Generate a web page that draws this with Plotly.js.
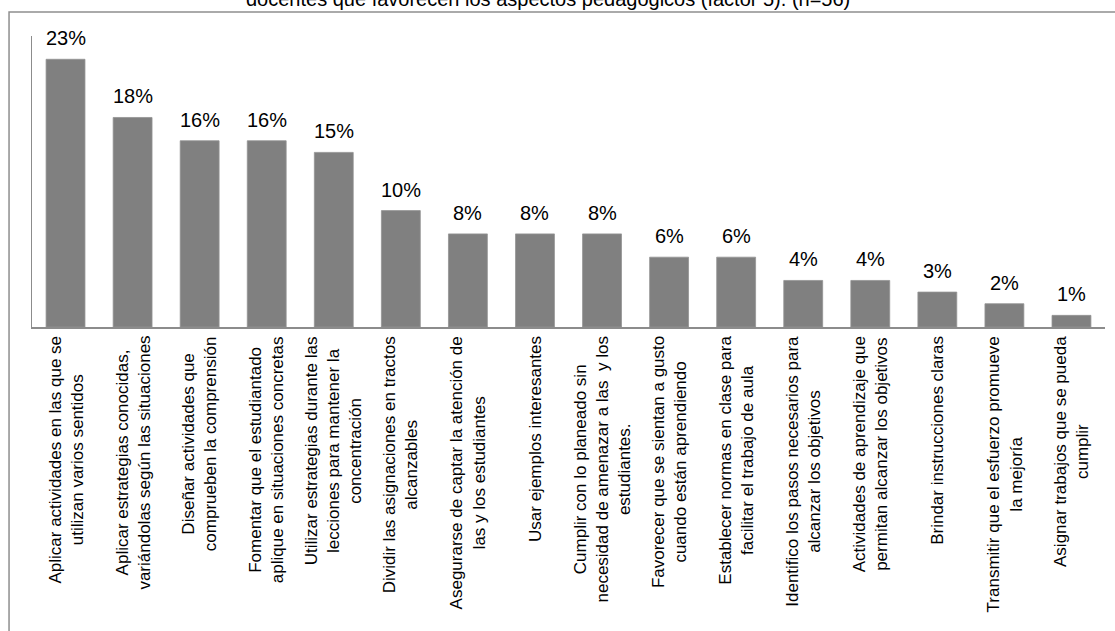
<!DOCTYPE html>
<html>
<head>
<meta charset="utf-8">
<script src="https://cdn.plot.ly/plotly-3.0.1.min.js"></script>
<style>
  html, body { margin: 0; padding: 0; background: #ffffff; }
  #chart { width: 1115px; height: 631px; }
</style>
</head>
<body>
<div id="chart"></div>
<script>
// ---- data ----
var categories = [
  "Aplicar actividades en las que se<br>utilizan varios sentidos",
  "Aplicar estrategias conocidas,<br>variándolas según las situaciones",
  "Diseñar actividades que<br>comprueben la comprensión",
  "Fomentar que el estudiantado<br>aplique en situaciones concretas",
  "Utilizar estrategias durante las<br>lecciones para mantener la<br>concentración",
  "Dividir las asignaciones en tractos<br>alcanzables",
  "Asegurarse de captar la atención de<br>las y los estudiantes",
  "Usar ejemplos interesantes",
  "Cumplir con lo planeado sin<br>necesidad de amenazar a las  y los<br>estudiantes.",
  "Favorecer que se sientan a gusto<br>cuando están aprendiendo",
  "Establecer normas en clase para<br>facilitar el trabajo de aula",
  "Identifico los pasos necesarios para<br>alcanzar los objetivos",
  "Actividades de aprendizaje que<br>permitan alcanzar los objetivos",
  "Brindar instrucciones claras",
  "Transmitir que el esfuerzo promueve<br>la mejoría",
  "Asignar trabajos que se pueda<br>cumplir"
];
var values = [23, 18, 16, 16, 15, 10, 8, 8, 8, 6, 6, 4, 4, 3, 2, 1];
var valueLabels = values.map(function (v) { return v + "%"; });
var titleText = "docentes que favorecen los aspectos pedagógicos (factor 5). (n=56)";

// ---- chart ----
var FONT = "Liberation Sans, Arial, Helvetica, sans-serif";

var trace = {
  type: "bar",
  x: categories,
  y: values,
  marker: { color: "#808080", line: { color: "#939393", width: 0.8 } },
  hoverinfo: "x+y"
};

var annotations = [];
categories.forEach(function (c, i) {
  annotations.push({
    x: c, y: values[i], xref: "x", yref: "y",
    text: valueLabels[i], showarrow: false,
    xanchor: "center", yanchor: "bottom", yshift: 8,
    font: { family: FONT, size: 20, color: "#000000" }
  });
  annotations.push({
    x: c, y: 0, xref: "x", yref: "paper",
    text: c, showarrow: false, textangle: -90,
    xanchor: "center", yanchor: "top", yshift: -7, align: "center",
    font: { family: FONT, size: 17, color: "#000000" }
  });
});
annotations.push({
  x: 0.481, y: 1, xref: "paper", yref: "paper",
  text: titleText, showarrow: false,
  xanchor: "center", yanchor: "bottom", yshift: 24,
  font: { family: FONT, size: 20, color: "#000000" }
});

var layout = {
  width: 1115, height: 631,
  margin: { l: 32, r: 10, t: 36, b: 304, pad: 0 },
  paper_bgcolor: "#ffffff", plot_bgcolor: "#ffffff",
  showlegend: false,
  bargap: 0.42,
  font: { family: FONT, color: "#000000" },
  xaxis: {
    type: "category",
    showticklabels: false, ticks: "",
    showgrid: false, zeroline: false,
    showline: true, linecolor: "#8c8c8c", linewidth: 1.5
  },
  yaxis: {
    range: [0, 25],
    showticklabels: false, ticks: "",
    showgrid: false, zeroline: false,
    showline: true, linecolor: "#8c8c8c", linewidth: 1.2
  },
  shapes: [{
    type: "rect", xref: "paper", yref: "paper",
    x0: -0.0214, x1: 1.02, y0: -1.1, y1: 1.0825,
    line: { color: "#8f8f8f", width: 1.5 }, layer: "below"
  }],
  annotations: annotations
};

Plotly.newPlot("chart", [trace], layout, { displayModeBar: false, staticPlot: true });
</script>
</body>
</html>
